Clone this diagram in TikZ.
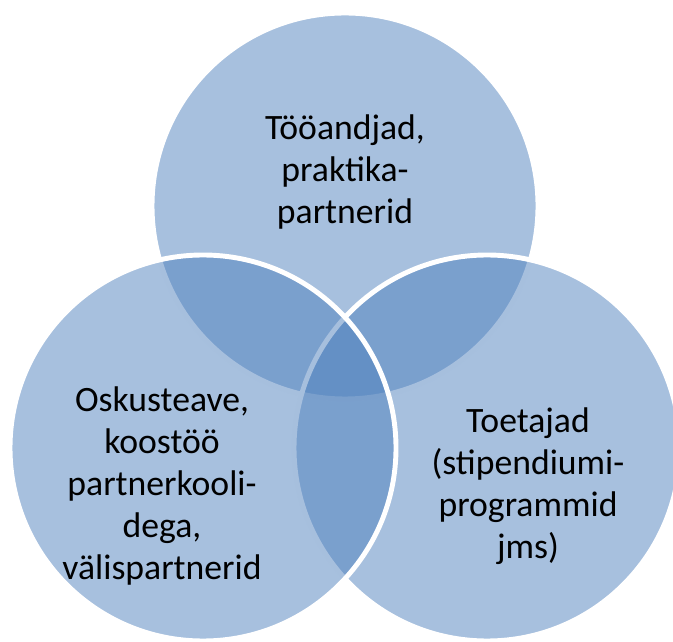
\documentclass[tikz,border=0pt]{standalone}
\usepackage{fontspec}
\setmainfont{Carlito}
\usepackage{tikz}
\usetikzlibrary{positioning}
\definecolor{accent}{HTML}{4F81BD}

\begin{document}
\begin{tikzpicture}
\useasboundingbox (0,0) rectangle (13.46,12.82);

\tikzstyle{ring}=[fill=accent,fill opacity=0.5,draw=white,line width=2.8pt]
\tikzstyle{lbl}=[align=center,text=black,font=\fontsize{20.3}{24}\selectfont]

% three circles, top first, left last
\draw[ring] (6.9,8.70) circle (3.86cm);
\draw[ring] (9.74,3.86) circle (3.86cm);
\draw[ring] (4.06,3.86) circle (3.86cm);

\node (employers) at (6.9,9.38) [lbl] {Tööandjad,\\praktika-\\partnerid};
\node (skills) at (3.24,3.10) [lbl] {Oskusteave,\\koostöö\\partnerkooli-\\dega,\\välispartnerid};
\node (sponsors) at (10.56,3.10) [lbl] {Toetajad\\(stipendiumi-\\programmid\\jms)};

\end{tikzpicture}
\end{document}
